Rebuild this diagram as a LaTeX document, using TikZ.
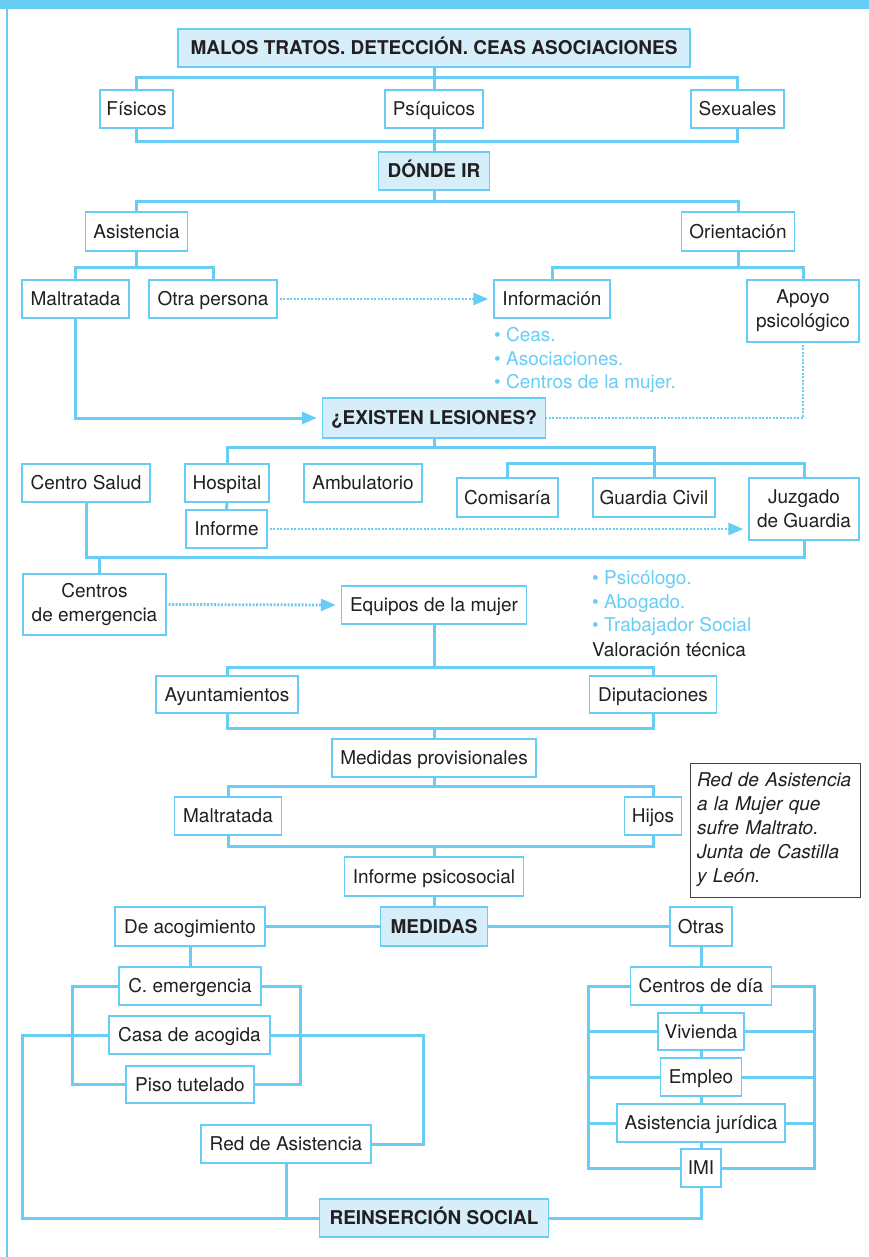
\documentclass[tikz,border=0pt]{standalone}
\usepackage{fontspec}
\setmainfont{TeX Gyre Heros}
\usetikzlibrary{arrows.meta}

\definecolor{azul}{RGB}{104,205,245}
\definecolor{azulclaro}{RGB}{214,238,250}
\definecolor{tinta}{RGB}{35,31,32}

\tikzset{
  tam/.style 2 args={minimum width=#1, minimum height=#2},
  caja/.style={draw=azul, line width=1.3pt, fill=white, inner sep=0pt, align=center,
    text=tinta, text height=17.6pt, text depth=4pt, font=\fontsize{19}{24}\selectfont},
  dos/.style={caja, text height={}, text depth={}},
  cabecera/.style={caja, fill=azulclaro, font=\fontsize{19}{24}\selectfont\bfseries},
  lista/.style={anchor=base west, inner sep=0pt, text=azul, font=\fontsize{19}{24}\selectfont},
  nota/.style={draw=tinta!85, line width=1pt, inner xsep=7pt, inner ysep=0pt, text width=156pt,
    align=left, text=tinta, font=\fontsize{19}{24}\selectfont\itshape},
  linea/.style={draw=azul, line width=3pt},
  punteado/.style={draw=azul, line width=2.8pt, dash pattern=on 2pt off 1.5pt, shorten <=2pt},
  flecha/.style={-{Triangle[length=15pt,width=12pt]}, shorten >=5pt}
}

\begin{document}
\begin{tikzpicture}[x=1pt,y=1pt,yscale=-1]
\useasboundingbox (0,0) rectangle (869,1257);

%Band and margin
\fill[azul] (0,0) rectangle (869,9);
\draw[azul, line width=1.5pt] (7,9) -- (7,1257);

% Text Nodes
\node[cabecera, tam={512}{38}] (titulo) at (434,48) {MALOS TRATOS. DETECCIÓN. CEAS ASOCIACIONES};
\node[caja, tam={73}{38}] (fisicos) at (136.5,109) {Físicos};
\node[caja, tam={98}{38}] (psiquicos) at (434,109) {Psíquicos};
\node[caja, tam={93}{38}] (sexuales) at (737.5,109) {Sexuales};
\node[cabecera, tam={111}{38}] (donde) at (434,171) {DÓNDE IR};
\node[caja, tam={102}{39}] (asistencia) at (136.5,231.5) {Asistencia};
\node[caja, tam={113}{39}] (orientacion) at (738,231.5) {Orientación};
\node[caja, tam={107}{38}] (maltratada) at (75.5,299) {Maltratada};
\node[caja, tam={128}{38}] (otra) at (213,299) {Otra persona};
\node[caja, tam={116}{38}] (informacion) at (552,299) {Información};
\node[dos, tam={112}{62}] (apoyo) at (803,311) {Apoyo\\psicológico};
\node[lista] (ceas) at (494,341) {\textbullet\ Ceas.};
\node[lista] (asociaciones) at (494,365) {\textbullet\ Asociaciones.};
\node[lista] (centrosmujer) at (494,388.5) {\textbullet\ Centros de la mujer.};
\node[cabecera, tam={223}{40}] (existen) at (434,418) {¿EXISTEN LESIONES?};
\node[caja, tam={128}{38}] (centrosalud) at (86,483) {Centro Salud};
\node[caja, tam={84}{38}] (hospital) at (227,483) {Hospital};
\node[caja, tam={118}{38}] (ambulatorio) at (363,483) {Ambulatorio};
\node[caja, tam={101}{39}] (comisaria) at (507.5,497.5) {Comisaría};
\node[caja, tam={122}{39}] (guardiacivil) at (654,497.5) {Guardia Civil};
\node[dos, tam={110}{62}] (juzgado) at (804,509) {Juzgado\\de Guardia};
\node[caja, tam={81}{38}] (informe) at (226.5,529) {Informe};
\node[dos, tam={143}{61}] (centrosemerg) at (94.5,604.5) {Centros\\de emergencia};
\node[caja, tam={185}{38}] (equipos) at (434,605) {Equipos de la mujer};
\node[lista] (psicologo) at (592,584.5) {\textbullet\ Psicólogo.};
\node[lista] (abogado) at (592,608.5) {\textbullet\ Abogado.};
\node[lista] (trabajador) at (592,631.5) {\textbullet\ Trabajador Social};
\node[lista, text=tinta] (valoracion) at (592,656) {Valoración técnica};
\node[caja, tam={142}{37}] (ayuntamientos) at (227,694.5) {Ayuntamientos};
\node[caja, tam={127}{37}] (diputaciones) at (653,694.5) {Diputaciones};
\node[caja, tam={204}{38}] (medidasprov) at (434,758) {Medidas provisionales};
\node[caja, tam={107}{38}] (maltratadab) at (228,816) {Maltratada};
\node[caja, tam={57}{38}] (hijos) at (653,816) {Hijos};
\node[caja, tam={179}{39}] (informepsico) at (434,876.5) {Informe psicosocial};
\node[nota, tam={170}{134}] (nota) at (775,830) {Red de Asistencia\\a la Mujer que\\sufre Maltrato.\\Junta de Castilla\\y León.};
\node[cabecera, tam={107}{39}] (medidas) at (434,926.5) {MEDIDAS};
\node[caja, tam={150}{39}] (acogimiento) at (190,926.5) {De acogimiento};
\node[caja, tam={62}{39}] (otras) at (701,926.5) {Otras};
\node[caja, tam={142}{38}] (cemergencia) at (190,986) {C. emergencia};
\node[caja, tam={161}{38}] (casa) at (189.5,1035) {Casa de acogida};
\node[caja, tam={128}{37}] (piso) at (190,1084.5) {Piso tutelado};
\node[caja, tam={170}{38}] (red) at (286,1144) {Red de Asistencia};
\node[cabecera, tam={229}{38}] (reinsercion) at (434,1218) {REINSERCIÓN SOCIAL};
\node[caja, tam={141}{38}] (centrosdia) at (701,986) {Centros de día};
\node[caja, tam={86}{37}] (vivienda) at (701,1031.5) {Vivienda};
\node[caja, tam={81}{38}] (empleo) at (701,1077) {Empleo};
\node[caja, tam={168}{38}] (juridica) at (701,1123) {Asistencia jurídica};
\node[caja, tam={40}{38}] (imi) at (701,1168) {IMI};

%Bracket points
\coordinate (b1) at (434,78);
\coordinate (b2) at (434,142);
\coordinate (b3) at (434,202);
\coordinate (b4) at (136.5,267);
\coordinate (b5) at (738,267);
\coordinate (b6) at (434,447);
\coordinate (b7) at (654,463);
\coordinate (b8) at (434,557);
\coordinate (b9) at (99,557);
\coordinate (b10) at (434,667);
\coordinate (b11) at (434,728);
\coordinate (b12) at (434,786);
\coordinate (b13) at (434,846);
\coordinate (acL) at (72,0);
\coordinate (acR) at (300,0);
\coordinate (esqA) at (22,1218);
\coordinate (esqB) at (423,0);
\coordinate (otL) at (588,0);
\coordinate (otR) at (814,0);

%Straight Lines
\draw[linea] (titulo.south) -- (psiquicos.north);
\draw[linea] (fisicos.north) |- (b1) -| (sexuales.north);
\draw[linea] (fisicos.south) |- (b2) -| (sexuales.south);
\draw[linea] (psiquicos.south) -- (donde.north);
\draw[linea] (donde.south) -- (b3);
\draw[linea] (asistencia.north) |- (b3) -| (orientacion.north);
\draw[linea] (asistencia.south) -- (b4);
\draw[linea] (maltratada.north) |- (b4) -| (otra.north);
\draw[linea] (orientacion.south) -- (b5);
\draw[linea] (informacion.north) |- (b5) -| (apoyo.north);
\draw[punteado, flecha] (otra.east) -- (informacion.west);
\draw[linea, flecha] (maltratada.south) |- (existen.west);
\draw[punteado] (apoyo.south) |- (existen.east);

\draw[linea] (existen.south) -- (b6);
\draw[linea] (hospital.north) |- (b6) -| (guardiacivil.north);
\draw[linea] (comisaria.north) |- (b7) -| (juzgado.north);
\draw[linea] (hospital.south) -- (informe.north);
\draw[punteado, flecha] (informe.east) -- (informe.east -| juzgado.west);
\draw[linea] (centrosalud.south) |- (b8) -| (juzgado.south);
\draw[linea] (b9) -- (b9 |- centrosemerg.north);
\draw[punteado, flecha] (centrosemerg.east) -- (equipos.west);

\draw[linea] (equipos.south) -- (b10);
\draw[linea] (ayuntamientos.north) |- (b10) -| (diputaciones.north);
\draw[linea] (ayuntamientos.south) |- (b11) -| (diputaciones.south);
\draw[linea] (b11) -- (medidasprov.north);
\draw[linea] (medidasprov.south) -- (b12);
\draw[linea] (maltratadab.north) |- (b12) -| (hijos.north);
\draw[linea] (maltratadab.south) |- (b13) -| (hijos.south);
\draw[linea] (b13) -- (informepsico.north);
\draw[linea] (informepsico.south) -- (medidas.north);

\draw[linea] (acogimiento.east) -- (medidas.west);
\draw[linea] (medidas.east) -- (otras.west);
\draw[linea] (acogimiento.south) -- (cemergencia.north);
\draw[linea] (cemergencia.west) -- (cemergencia.west -| acL) -- (piso.west -| acL) -- (piso.west);
\draw[linea] (cemergencia.east) -- (cemergencia.east -| acR) -- (piso.east -| acR) -- (piso.east);
\draw[linea] (casa.west) -| (esqA) -- (reinsercion.west);
\draw[linea] (casa.east) -- (casa.east -| esqB) |- (red.east);
\draw[linea] (red.south) -- (red.south |- reinsercion.west);
\draw[linea] (reinsercion.east) -| (imi.south);

\draw[linea] (otras.south) -- (centrosdia.north);
\draw[linea] (centrosdia.south) -- (vivienda.north);
\draw[linea] (vivienda.south) -- (empleo.north);
\draw[linea] (empleo.south) -- (juridica.north);
\draw[linea] (juridica.south) -- (imi.north);
\draw[linea] (centrosdia.west) -- (centrosdia.west -| otL) -- (imi.west -| otL) -- (imi.west);
\draw[linea] (centrosdia.east) -- (centrosdia.east -| otR) -- (imi.east -| otR) -- (imi.east);
\draw[linea] (vivienda.west) -- (vivienda.west -| otL);
\draw[linea] (empleo.west) -- (empleo.west -| otL);
\draw[linea] (juridica.west) -- (juridica.west -| otL);
\draw[linea] (vivienda.east) -- (vivienda.east -| otR);
\draw[linea] (empleo.east) -- (empleo.east -| otR);
\draw[linea] (juridica.east) -- (juridica.east -| otR);
\end{tikzpicture}
\end{document}
